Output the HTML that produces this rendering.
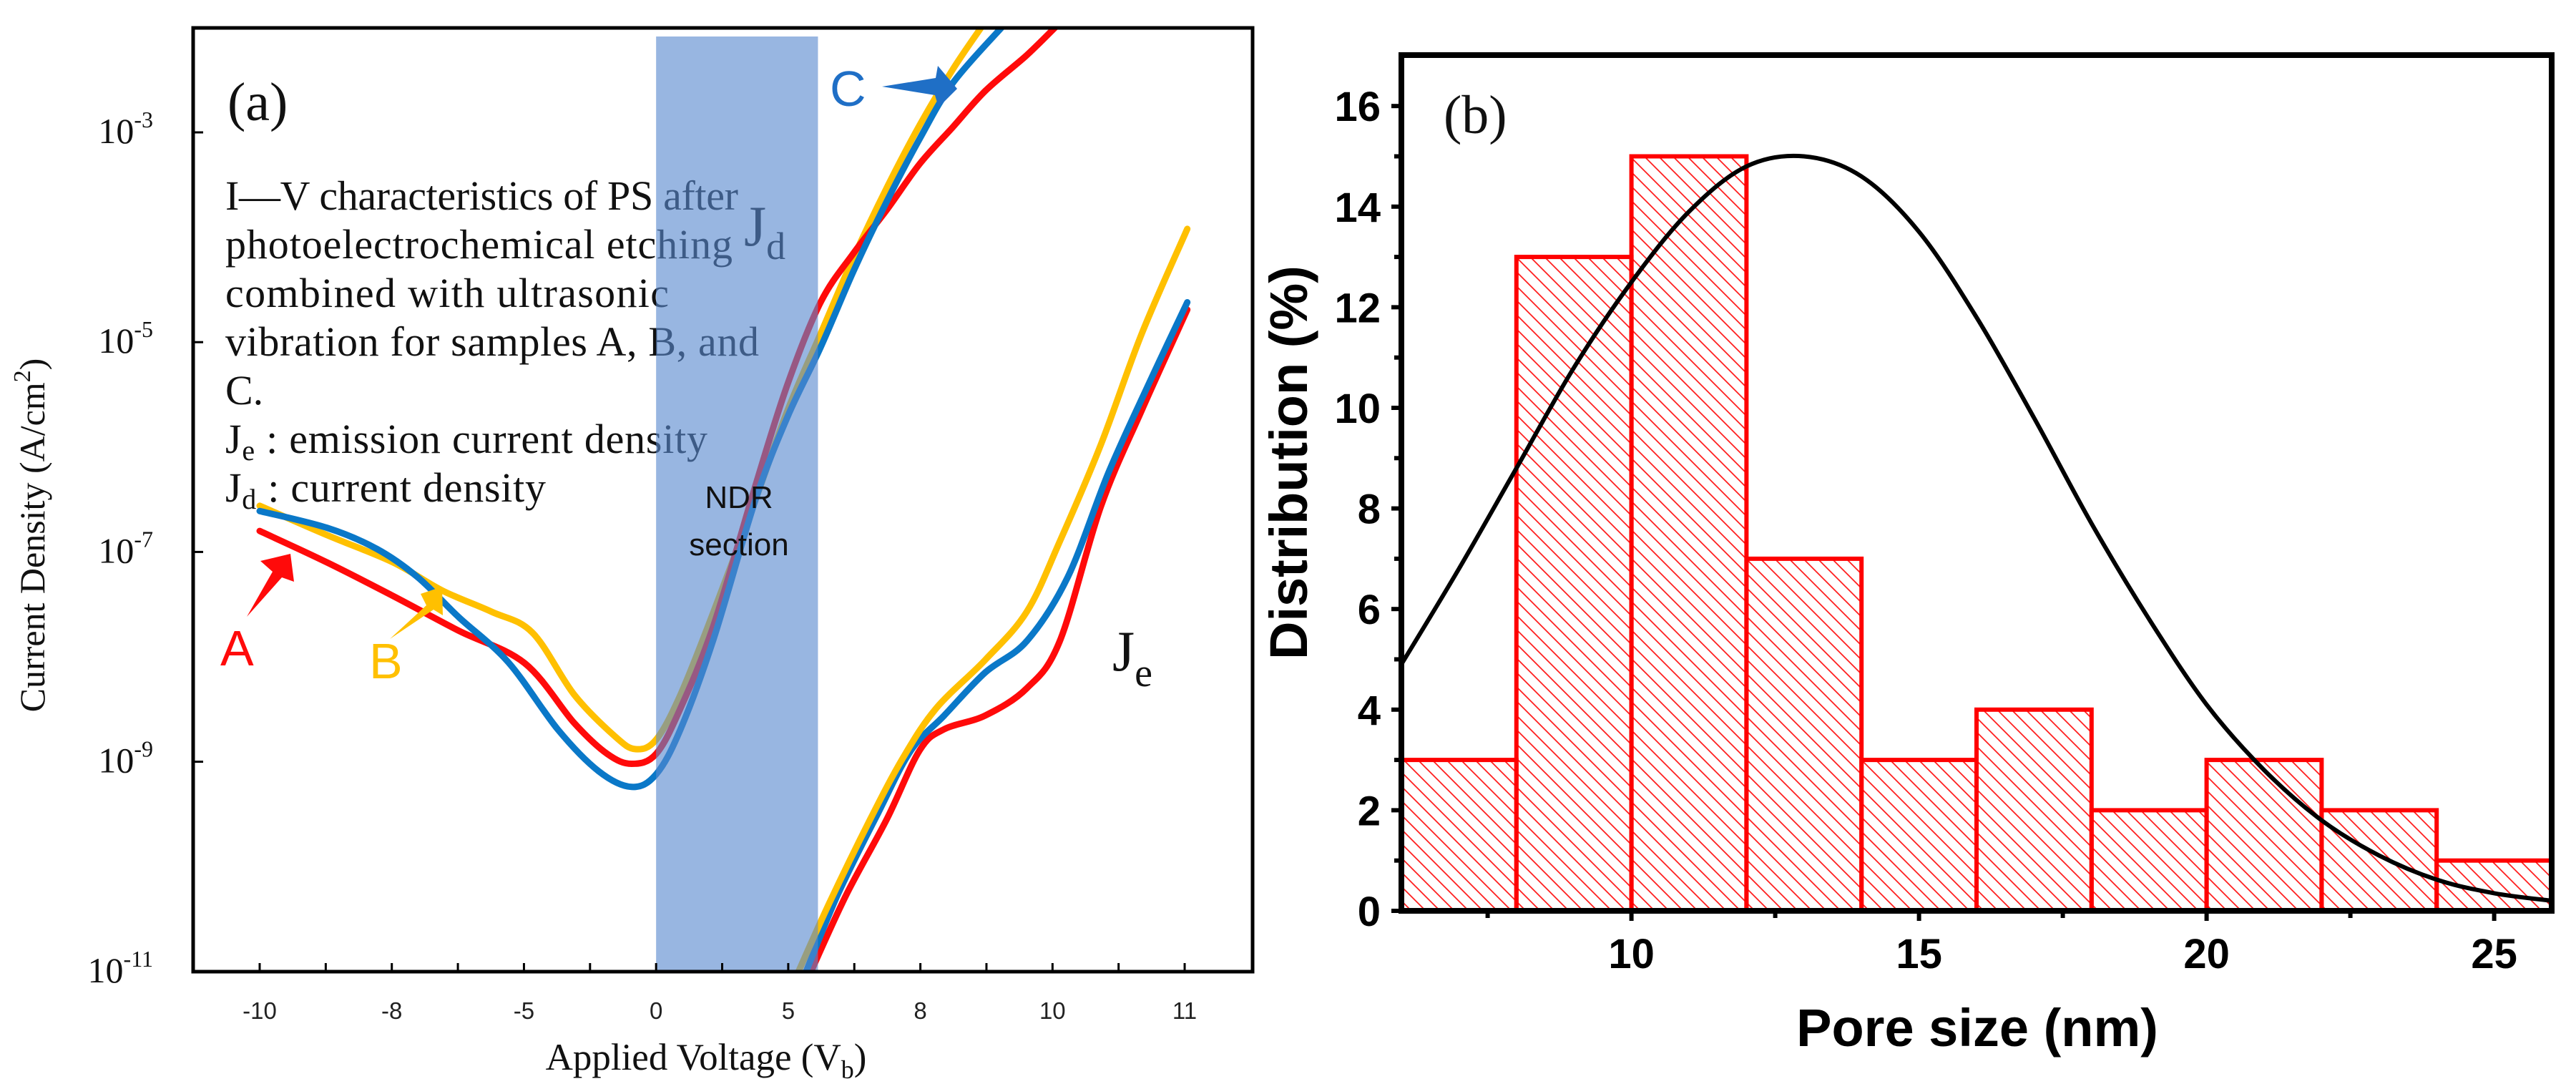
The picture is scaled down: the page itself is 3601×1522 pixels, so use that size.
<!DOCTYPE html>
<html><head><meta charset="utf-8"><style>
html,body{margin:0;padding:0;background:#fff;}
svg{display:block;}
</style></head><body>
<svg id="fig" xmlns="http://www.w3.org/2000/svg" width="3601" height="1522" viewBox="0 0 3601 1522">
<defs>
<pattern id="hatch" patternUnits="userSpaceOnUse" width="20" height="20">
<path d="M-6,-6 L26,26 M-6,14 L6,26 M14,-6 L26,6" stroke="#ff2020" stroke-width="1.8"/>
</pattern>
<clipPath id="clipA"><rect x="272" y="41" width="1477" height="1315"/></clipPath>
<clipPath id="clipB"><rect x="1963" y="81" width="1600" height="1188"/></clipPath>
</defs>
<rect width="3601" height="1522" fill="#fff"/>
<g id="panelA"></g>
<g id="panelB"></g>
</svg>
<script>
// ---------- Panel (a) data ----------
const xTickLabelsA = ["-10","-8","-5","0","5","8","10","11"];
const yTickExpA = [-3,-5,-7,-9,-11];
const ndrBand = [6.0, 8.45]; // tick-index units
const jdRedU = [0,1.02,2.02,3.01,4.01,4.76,5.26,5.63,6.0,6.37,6.87,7.5,7.99,8.49,8.99,9.49,9.99,10.49,10.99,11.6,12.04];
const jdRedLog = [-6.80,-7.10,-7.42,-7.75,-8.06,-8.63,-8.925,-9.02,-8.925,-8.49,-7.70,-6.375,-5.40,-4.62,-4.15,-3.74,-3.30,-2.95,-2.60,-2.27,-2.0];
const jdYelU = [0,1.02,2.02,2.77,3.51,4.13,4.76,5.38,5.69,6.0,6.37,6.87,7.5,7.99,8.49,8.99,9.49,9.99,10.49,10.92];
const jdYelLog = [-6.56,-6.84,-7.10,-7.37,-7.57,-7.77,-8.36,-8.76,-8.88,-8.79,-8.36,-7.57,-6.51,-5.65,-4.92,-4.19,-3.53,-2.93,-2.40,-2.0];
const jdBluU = [0,1.02,1.77,2.39,3.01,3.76,4.51,5.13,5.63,6.0,6.37,6.87,7.5,7.99,8.49,8.99,9.49,9.99,10.49,11.23];
const jdBluLog = [-6.61,-6.77,-6.97,-7.24,-7.62,-8.05,-8.69,-9.09,-9.24,-9.12,-8.69,-7.83,-6.51,-5.71,-5.05,-4.32,-3.66,-3.06,-2.53,-2.0];
const jeYelU = [8.12,8.62,9.24,9.74,10.24,10.98,11.61,12.11,12.73,13.35,14.04];
const jeYelLog = [-11.05,-10.35,-9.55,-8.96,-8.49,-8.03,-7.57,-6.90,-5.98,-4.92,-3.92];
const jeBluU = [8.24,8.74,9.36,9.86,10.36,10.98,11.61,12.23,12.85,13.47,14.04];
const jeBluLog = [-11.05,-10.28,-9.49,-8.89,-8.56,-8.15,-7.85,-7.24,-6.24,-5.38,-4.62];
const jeRedU = [8.31,8.87,9.49,9.99,10.36,10.98,11.61,12.11,12.73,13.35,14.04];
const jeRedLog = [-11.05,-10.28,-9.55,-8.89,-8.69,-8.56,-8.30,-7.85,-6.57,-5.65,-4.69];

// ---------- Panel (b) data ----------
const binStarts = [6,8,10,12,14,16,18,20,22,24];
const binCounts = [3,13,15,7,3,4,2,3,2,1];
const fitX = [6,7,8,9,10,11,12,13,14,15,16,17,18,19,20,21,22,23,24,25,26];
const fitY = [4.9,6.8,8.8,10.8,12.5,13.9,14.8,15.0,14.6,13.5,11.8,9.8,7.7,5.8,4.1,2.8,1.8,1.1,0.62,0.35,0.2];
const xTickB = [10,15,20,25];
const yTickB = [0,2,4,6,8,10,12,14,16];

const NS = "http://www.w3.org/2000/svg";
function el(tag, attrs, parent){const e=document.createElementNS(NS,tag);for(const k in attrs)e.setAttribute(k,attrs[k]);parent.appendChild(e);return e;}
function smooth(pts){
  let d="M"+pts[0][0].toFixed(1)+","+pts[0][1].toFixed(1);
  for(let i=0;i<pts.length-1;i++){
    const p0=pts[Math.max(0,i-1)],p1=pts[i],p2=pts[i+1],p3=pts[Math.min(pts.length-1,i+2)];
    const c1x=p1[0]+(p2[0]-p0[0])/6,c1y=p1[1]+(p2[1]-p0[1])/6;
    const c2x=p2[0]-(p3[0]-p1[0])/6,c2y=p2[1]-(p3[1]-p1[1])/6;
    d+=" C"+c1x.toFixed(1)+","+c1y.toFixed(1)+" "+c2x.toFixed(1)+","+c2y.toFixed(1)+" "+p2[0].toFixed(1)+","+p2[1].toFixed(1);
  }
  return d;
}

// ===== Panel A =====
const A = document.getElementById('panelA');
const axL=270, axR=1751, axT=39, axB=1358;
const xA = u => 363 + 92.36*u;
const yA = lg => 185 + (-3 - lg)*146.6;
const serif = '"Liberation Serif", serif';
const sans = '"Liberation Sans", sans-serif';

const curveGroup = el('g',{'clip-path':'url(#clipA)'},A);


function drawCurve(us, lgs, color, name){
  const pts = us.map((u,i)=>[xA(u), yA(lgs[i])]);
  const p = el('path',{d:smooth(pts),fill:'none',stroke:color,'stroke-width':9,'stroke-linecap':'round','stroke-linejoin':'round'},curveGroup);
  
  
}
const RED='#ff0a0a', YEL='#ffc000', BLU='#0a78c8';
drawCurve(jeRedU,jeRedLog,RED,'je-curve-a');
drawCurve(jeBluU,jeBluLog,BLU,'je-curve-c');
drawCurve(jeYelU,jeYelLog,YEL,'je-curve-b');
drawCurve(jdYelU,jdYelLog,YEL,'jd-curve-b');
drawCurve(jdRedU,jdRedLog,RED,'jd-curve-a');
drawCurve(jdBluU,jdBluLog,BLU,'jd-curve-c');

const lines = [
  ["I\u2015V characteristics of PS after", 717],
  ["photoelectrochemical etching", 709],
  ["combined with ultrasonic", 620],
  ["vibration for samples A, B, and", 746],
  ["C.", 0],
  ["Je : emission current density", 674],
  ["Jd : current density", 448]
];
const tb = el('g',{'font-family':serif,'font-size':58,fill:'#111'},A);


lines.forEach((ln,i)=>{
  const t = el('text',{x:315,y:293+68*i},tb);
  
  
  if(ln[0].startsWith('Je')||ln[0].startsWith('Jd')){
    const s1=el('tspan',{},t); s1.textContent='J';
    const s2=el('tspan',{dy:10,'font-size':40},t); s2.textContent=ln[0][1];
    const s3=el('tspan',{dy:-10},t); s3.textContent=ln[0].slice(2);
  } else t.textContent=ln[0];
  if(ln[1]) t.setAttribute('textLength',ln[1]);
});
const jd = el('text',{x:1040,y:343,'font-family':serif,'font-size':80,fill:'#111'},A);
 
jd.innerHTML='J<tspan dy="19" font-size="54">d</tspan>';

const band = el('rect',{x:xA(ndrBand[0]),y:51,width:xA(ndrBand[1])-xA(ndrBand[0]),height:axB-51,fill:'#5889cf','fill-opacity':0.62},A);
 
const ndr = el('text',{x:1033,y:710,'font-family':sans,'font-size':44,'text-anchor':'middle',fill:'#111'},A);
 
ndr.innerHTML='NDR<tspan x="1033" dy="66">section</tspan>';

const je = el('text',{x:1555,y:937,'font-family':serif,'font-size':80,fill:'#111'},A);
 
je.innerHTML='J<tspan dy="22" font-size="56">e</tspan>';

function lbl(txt,x,y,c,name){const t=el('text',{x:x,y:y,'font-family':sans,'font-size':70,fill:c},A);t.textContent=txt;}
lbl('A',308,930,RED,'label-a'); lbl('B',516,948,YEL,'label-b'); lbl('C',1160,148,'#1f6fc6','label-c');
function arrow(pts,c,name){const p=el('polygon',{points:pts,fill:c},A);}
arrow('345,862 381,799 364,784 406,774 411,813 394,807',RED,'arrow-a');
arrow('545,893 596,846 588,830 618,820 619,860 606,852',YEL,'arrow-b');
arrow('1233,121 1308,109 1311,92 1338,124 1312,150 1307,133','#1f6fc6','arrow-c');

const la = el('text',{x:318,y:168,'font-family':serif,'font-size':76,fill:'#111'},A);
la.textContent='(a)';  

const fa = el('rect',{x:axL,y:axT,width:axR-axL,height:axB-axT,fill:'none',stroke:'#000','stroke-width':5},A);
 
for(let i=0;i<=14;i++){
  const t=el('line',{x1:xA(i),x2:xA(i),y1:axB,y2:axB-12,stroke:'#000','stroke-width':3},A);
   
}
xTickLabelsA.forEach((s,i)=>{
  const t=el('text',{x:xA(i*2),y:1424,'font-family':sans,'font-size':33,'text-anchor':'middle',fill:'#222'},A);
  t.textContent=s;  
});
yTickExpA.forEach(e=>{
  const y=yA(e);
  const t=el('line',{x1:axL,x2:axL+14,y1:y,y2:y,stroke:'#000','stroke-width':3},A);
   
  const l=el('text',{x:214,y:y+15,'font-family':serif,'font-size':50,'text-anchor':'end',fill:'#111'},A);
  l.innerHTML='10<tspan dy="-22" font-size="32">'+e+'</tspan>';
   
});
const xtA=el('text',{x:987,y:1495,'font-family':serif,'font-size':53,'text-anchor':'middle',fill:'#111'},A);
xtA.innerHTML='Applied Voltage (V<tspan dy="12" font-size="36">b</tspan><tspan dy="-12">)</tspan>';
 
const ytA=el('text',{x:0,y:0,transform:'translate(62,748) rotate(-90)','font-family':serif,'font-size':50,'text-anchor':'middle',fill:'#111'},A);
ytA.innerHTML='Current Density (A/cm<tspan dy="-20" font-size="34">2</tspan><tspan dy="20">)</tspan>';
 

// ===== Panel B =====
const B = document.getElementById('panelB');
const bL=1959,bR=3567,bT=77,bB=1273;
const xB = v => bL + (v-6)*80.4;
const yB = v => bB - v*70.3;
const bars = el('g',{},B);
 
binStarts.forEach((s,i)=>{
  const r=el('rect',{x:xB(s),y:yB(binCounts[i]),width:xB(s+2)-xB(s),height:bB-yB(binCounts[i]),fill:'url(#hatch)',stroke:'#ff0000','stroke-width':6},bars);
   
});
const fit = el('path',{d:smooth(fitX.map((x,i)=>[xB(x),yB(fitY[i])])),fill:'none',stroke:'#000','stroke-width':6,'clip-path':'url(#clipB)'},B);
 
const fb = el('rect',{x:bL,y:bT,width:bR-bL,height:bB-bT,fill:'none',stroke:'#000','stroke-width':8},B);
 
xTickB.forEach(v=>{
  const t=el('line',{x1:xB(v),x2:xB(v),y1:bB,y2:bB+14,stroke:'#000','stroke-width':6},B);
   
  const m=el('line',{x1:xB(v-2.5),x2:xB(v-2.5),y1:bB,y2:bB+10,stroke:'#000','stroke-width':6},B);
   
  const l=el('text',{x:xB(v),y:1353,'font-family':sans,'font-weight':'bold','font-size':58,'text-anchor':'middle',fill:'#000'},B);
  l.textContent=v;  
});
yTickB.forEach(v=>{
  const t=el('line',{x1:bL,x2:bL-14,y1:yB(v),y2:yB(v),stroke:'#000','stroke-width':6},B);
   
  if(v<16){const m=el('line',{x1:bL,x2:bL-10,y1:yB(v+1),y2:yB(v+1),stroke:'#000','stroke-width':6},B);
   }
  const l=el('text',{x:1930,y:yB(v)+21,'font-family':sans,'font-weight':'bold','font-size':58,'text-anchor':'end',fill:'#000'},B);
  l.textContent=v;  
});
const lb = el('text',{x:2018,y:186,'font-family':serif,'font-size':76,fill:'#111'},B);
lb.textContent='(b)';  
const xtB=el('text',{x:2764,y:1462,'font-family':sans,'font-weight':'bold','font-size':74,'text-anchor':'middle',fill:'#000'},B);
xtB.textContent='Pore size (nm)';  
const ytB=el('text',{x:0,y:0,transform:'translate(1827,922) rotate(-90)','font-family':sans,'font-weight':'bold','font-size':74,'text-anchor':'start',fill:'#000'},B);
ytB.textContent='Distribution (%)';  
</script>
</body></html>
